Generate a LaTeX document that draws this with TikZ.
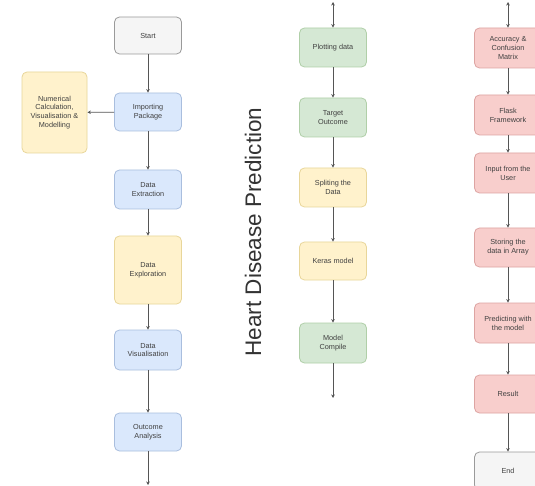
\documentclass[tikz,border=0pt]{standalone}
\usepackage{fontspec}
\setmainfont{Liberation Sans}
\usetikzlibrary{arrows.meta}
\definecolor{grayF}{HTML}{F5F5F5}\definecolor{grayD}{HTML}{9A9A9A}
\definecolor{blueF}{HTML}{DAE8FC}\definecolor{blueD}{HTML}{A9BEDE}
\definecolor{yelF}{HTML}{FFF2CC}\definecolor{yelD}{HTML}{E8D69A}
\definecolor{grnF}{HTML}{D5E8D4}\definecolor{grnD}{HTML}{B0CFA8}
\definecolor{redF}{HTML}{F8CECC}\definecolor{redD}{HTML}{DDA4A2}
\definecolor{lineC}{HTML}{555555}
\tikzset{
  box/.style={draw, rounded corners=5pt, line width=0.8pt, minimum width=67pt, minimum height=38pt,
    align=center, font=\fontsize{7.3}{8.8}\selectfont, text=black!75, inner sep=1pt},
  gbox/.style={box, fill=grayF, draw=grayD},
  bbox/.style={box, fill=blueF, draw=blueD},
  ybox/.style={box, fill=yelF, draw=yelD},
  gnbox/.style={box, fill=grnF, draw=grnD},
  rbox/.style={box, fill=redF, draw=redD},
  conn/.style={draw=lineC, line width=0.7pt, -{Stealth[length=3.5pt,width=3.5pt]}},
  conn2/.style={draw=lineC, line width=0.7pt, {Stealth[length=3.5pt,width=3.5pt]}-{Stealth[length=3.5pt,width=3.5pt]}}
}
\begin{document}
\begin{tikzpicture}[x=1pt,y=1pt]
\useasboundingbox[clip] (0,0) rectangle (535,-486);
\fill[white] (0,0) rectangle (535,-486);
% left column
\node[gbox, minimum height=37pt] (start) at (148,-35.5) {Start};
\node[bbox] (imp) at (148,-112) {Importing\\Package};
\node[ybox, minimum width=65pt, minimum height=81pt] (num) at (54.5,-112.5) {Numerical\\Calculation,\\Visualisation \&\\Modelling};
\node[bbox, minimum height=39pt] (ext) at (148,-189.5) {Data\\Extraction};
\node[ybox, minimum height=68pt] (expl) at (148,-270) {Data\\Exploration};
\node[bbox, minimum height=40pt] (vis) at (148,-350) {Data\\Visualisation};
\node[bbox] (out) at (148,-432) {Outcome\\Analysis};
\coordinate (leftend) at (148,-485);
\draw[conn] (start) -- (imp);
\draw[conn] (imp) -- (num);
\draw[conn] (imp) -- (ext);
\draw[conn] (ext) -- (expl);
\draw[conn] (expl) -- (vis);
\draw[conn] (vis) -- (out);
\draw[conn] (out) -- (leftend);
% title
\node[rotate=90, font=\fontsize{22.5}{26}\selectfont, text=black!80] (title) at (253,-232) {Heart Disease Prediction};
% middle column
\coordinate (midtop) at (333,-2);
\node[gnbox, minimum height=39pt] (plot) at (333,-47.5) {Plotting data};
\node[gnbox, minimum height=39pt] (target) at (333,-117.5) {Target\\Outcome};
\node[ybox, minimum height=39pt] (split) at (333,-187.5) {Spliting the\\Data};
\node[ybox] (keras) at (333,-261) {Keras model};
\node[gnbox, minimum height=40pt] (comp) at (333,-343) {Model\\Compile};
\coordinate (midend) at (333,-398);
\draw[conn2] (midtop) -- (plot);
\draw[conn] (plot) -- (target);
\draw[conn] (target) -- (split);
\draw[conn] (split) -- (keras);
\draw[conn] (keras) -- (comp);
\draw[conn] (comp) -- (midend);
% right column
\coordinate (righttop) at (508,-2);
\node[rbox, minimum height=40pt] (acc) at (508,-48) {Accuracy \&\\Confusion\\Matrix};
\node[rbox, minimum height=40pt] (flask) at (508,-115) {Flask\\Framework};
\node[rbox, minimum height=40pt] (input) at (508,-173) {Input from the\\User};
\node[rbox, minimum height=39pt] (store) at (508,-247.5) {Storing the\\data in Array};
\node[rbox, minimum height=40pt] (pred) at (508,-323) {Predicting with\\the model};
\node[rbox] (res) at (508,-394) {Result};
\node[gbox] (endn) at (508,-471) {End};
\draw[conn2] (righttop) -- (acc);
\draw[conn] (acc) -- (flask);
\draw[conn] (flask) -- (input);
\draw[conn] (input) -- (store);
\draw[conn] (store) -- (pred);
\draw[conn] (pred) -- (res);
\draw[conn] (res) -- (endn);
\end{tikzpicture}
\end{document}
